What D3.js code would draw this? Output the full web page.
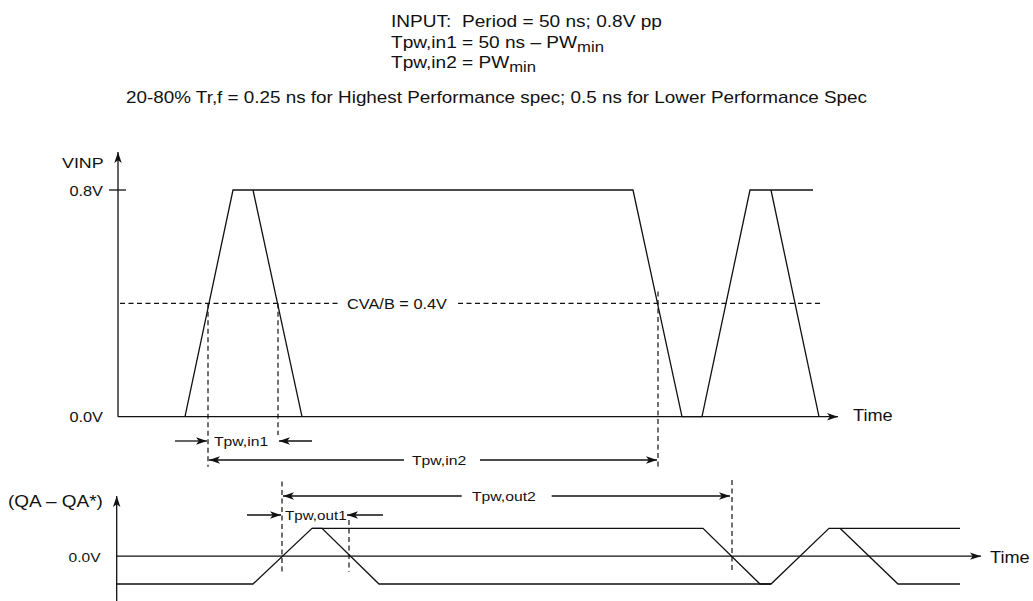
<!DOCTYPE html>
<html>
<head>
<meta charset="utf-8">
<script src="https://cdn.jsdelivr.net/npm/d3@7"></script>
<style>
  body { margin: 0; background: #fff; }
  svg text { font-family: "Liberation Sans", Arial, sans-serif; fill: #111; white-space: pre; }
</style>
</head>
<body>
<div id="chart"></div>
<script>
// header notes
var headerLines = ["INPUT:  Period = 50 ns; 0.8V pp", "Tpw,in1 = 50 ns \u2013 PW", "Tpw,in2 = PW"];
var headerSubs = ["", "min", "min"];
var specLine = "20-80% Tr,f = 0.25 ns for Highest Performance spec; 0.5 ns for Lower Performance Spec";

// input (VINP) waveform, time in ns, volts
var vinpWideT = [6.7, 11.5, 51.5, 56.4, 58.4, 63.2, 69.5];
var vinpWideV = [0, 0.8, 0.8, 0, 0, 0.8, 0.8];
var vinpFall1T = [13.5, 18.4];
var vinpFall2T = [65.3, 70.1];
var vinpFallV = [0.8, 0];
var vinpTicks = [0, 0.8];
var vinpTickLabels = ["0.0V", "0.8V"];
var threshold = 0.4;

// output (QA - QA*) waveform
var outWideT = [-0.13, 13.5, 19.4, 58.5, 64.2, 65.3, 71.1, 84.2];
var outWideV = [-0.8, -0.8, 0.8, 0.8, -0.8, -0.8, 0.8, 0.8];
var outNarrow1T = [19.4, 20.4, 26.1, 65.3];
var outNarrow1V = [0.8, 0.8, -0.8, -0.8];
var outNarrow2T = [72.2, 78.0, 84.2];
var outNarrow2V = [0.8, -0.8, -0.8];

// crossing times for pulse widths
var inCross = [9.0, 16.0, 54.0];
var outCross = [16.4, 23.1, 61.4];

function chart() {
    var svgWidth = 1033, svgHeight = 601;

    var svg = d3.select("#chart").append("svg")
        .attr("width", svgWidth)
        .attr("height", svgHeight);

    // arrow heads
    var defs = svg.append("defs");
    defs.append("marker")
        .attr("id", "arr")
        .attr("viewBox", "0 0 11 10")
        .attr("refX", 11).attr("refY", 5)
        .attr("markerWidth", 11).attr("markerHeight", 10)
        .attr("markerUnits", "userSpaceOnUse")
        .attr("orient", "auto")
        .append("path")
        .attr("d", "M0,1.3 L11,5 L0,8.7 L2.8,5 Z")
        .attr("fill", "#111");

    // scales
    var x = d3.scaleLinear().domain([0, 90]).range([118, 1018]);
    var yTop = d3.scaleLinear().domain([0, 0.8]).range([416.7, 190]);
    var yBot = d3.scaleLinear().domain([-0.8, 0.8]).range([584, 528.3]);

    var lineStyle = function(sel) {
        return sel.attr("fill", "none").attr("stroke", "#111").attr("stroke-width", 1.3);
    };
    var dashStyle = function(sel) {
        return sel.attr("fill", "none").attr("stroke", "#111").attr("stroke-width", 1.2)
            .attr("stroke-dasharray", "5,3.5");
    };

    // text is a bit wide in the original, so stretch it horizontally
    var sx = 1.15;
    function txt(g, s, px, py, size, anchor) {
        return g.append("text")
            .attr("transform", `translate(${px},${py}) scale(${sx},1)`)
            .attr("text-anchor", anchor || "start")
            .style("font-size", size + "px")
            .text(s);
    }

    function wave(g, ts, vs, y) {
        var pts = ts.map((t, i) => [x(t), y(vs[i])]);
        g.append("path").attr("d", d3.line()(pts)).call(lineStyle);
    }

    // header text
    var hdr = svg.append("g");
    headerLines.forEach(function(s, i) {
        var t = txt(hdr, s, 391, 26.7 + i * 20.8, 16.6);
        if (headerSubs[i]) {
            t.append("tspan").attr("dy", 4).style("font-size", "14.5px").text(headerSubs[i]);
        }
    });
    txt(hdr, specLine, 126, 103, 16.4);

    // ---- top panel: VINP ----
    var top = svg.append("g");

    top.append("line")
        .attr("x1", x(0)).attr("x2", x(0))
        .attr("y1", yTop(0)).attr("y2", 152)
        .attr("marker-end", "url(#arr)")
        .call(lineStyle);
    top.append("line")
        .attr("x1", x(0)).attr("x2", x(72))
        .attr("y1", yTop(0)).attr("y2", yTop(0))
        .attr("marker-end", "url(#arr)")
        .call(lineStyle);

    top.append("line")
        .attr("x1", x(-0.9)).attr("x2", x(0.8))
        .attr("y1", yTop(0.8)).attr("y2", yTop(0.8))
        .call(lineStyle);

    vinpTicks.forEach(function(d, i) {
        txt(top, vinpTickLabels[i], 103, yTop(d) + 5.5, 14.2, "end");
    });

    txt(top, "VINP", 62, 167.5, 15.5);
    txt(top, "Time", 853, 421, 15.8);

    // threshold line with label
    top.append("line")
        .attr("x1", x(0.2)).attr("x2", x(22.3))
        .attr("y1", yTop(threshold)).attr("y2", yTop(threshold))
        .call(dashStyle);
    txt(top, "CVA/B = 0.4V", 347, yTop(threshold) + 5.5, 14.2);
    top.append("line")
        .attr("x1", x(34)).attr("x2", x(70.2))
        .attr("y1", yTop(threshold)).attr("y2", yTop(threshold))
        .call(dashStyle);

    wave(top, vinpWideT, vinpWideV, yTop);
    wave(top, vinpFall1T, vinpFallV, yTop);
    wave(top, vinpFall2T, vinpFallV, yTop);

    // crossing markers
    var inEnds = [466.7, 435, 466.7];
    var inStarts = [yTop(threshold), yTop(threshold), 291.5];
    inCross.forEach(function(t, i) {
        top.append("line")
            .attr("x1", x(t)).attr("x2", x(t))
            .attr("y1", inStarts[i]).attr("y2", inEnds[i])
            .call(dashStyle);
    });

    // Tpw,in1
    top.append("line").attr("x1", x(inCross[0]) - 33).attr("x2", x(inCross[0]) - 1)
        .attr("y1", 441).attr("y2", 441).attr("marker-end", "url(#arr)").call(lineStyle);
    txt(top, "Tpw,in1", x(inCross[0]) + 6, 446, 13.7);
    top.append("line").attr("x1", x(inCross[1]) + 34).attr("x2", x(inCross[1]) + 1)
        .attr("y1", 441).attr("y2", 441).attr("marker-end", "url(#arr)").call(lineStyle);

    // Tpw,in2
    top.append("line").attr("x1", 404).attr("x2", x(inCross[0]) + 1)
        .attr("y1", 460).attr("y2", 460).attr("marker-end", "url(#arr)").call(lineStyle);
    txt(top, "Tpw,in2", 412, 465, 13.7);
    top.append("line").attr("x1", 480).attr("x2", x(inCross[2]) - 1)
        .attr("y1", 460).attr("y2", 460).attr("marker-end", "url(#arr)").call(lineStyle);

    // ---- bottom panel: QA - QA* ----
    var bot = svg.append("g");

    bot.append("line")
        .attr("x1", 116.7).attr("x2", 116.7)
        .attr("y1", 601).attr("y2", 496)
        .attr("marker-end", "url(#arr)")
        .call(lineStyle);
    bot.append("line")
        .attr("x1", 116.7).attr("x2", x(86.3))
        .attr("y1", yBot(0)).attr("y2", yBot(0))
        .attr("marker-end", "url(#arr)")
        .call(lineStyle);

    txt(bot, "(QA \u2013 QA*)", 8, 506.5, 16.5);
    txt(bot, "0.0V", 100.5, yBot(0) + 5.5, 13.5, "end");
    txt(bot, "Time", 990, yBot(0) + 6.5, 15.8);

    wave(bot, outWideT, outWideV, yBot);
    wave(bot, outNarrow1T, outNarrow1V, yBot);
    wave(bot, outNarrow2T, outNarrow2V, yBot);

    var outStarts = [481.5, 520, 480];
    outCross.forEach(function(t, i) {
        bot.append("line")
            .attr("x1", x(t)).attr("x2", x(t))
            .attr("y1", outStarts[i]).attr("y2", 571.7)
            .call(dashStyle);
    });

    // Tpw,out2
    bot.append("line").attr("x1", 461.7).attr("x2", x(outCross[0]) + 1)
        .attr("y1", 496).attr("y2", 496).attr("marker-end", "url(#arr)").call(lineStyle);
    txt(bot, "Tpw,out2", 472, 501, 13.7);
    bot.append("line").attr("x1", 551.7).attr("x2", x(outCross[2]) - 2)
        .attr("y1", 496).attr("y2", 496).attr("marker-end", "url(#arr)").call(lineStyle);

    // Tpw,out1
    bot.append("line").attr("x1", x(outCross[0]) - 35).attr("x2", x(outCross[0]) - 1)
        .attr("y1", 515).attr("y2", 515).attr("marker-end", "url(#arr)").call(lineStyle);
    txt(bot, "Tpw,out1", x(outCross[0]) + 3, 520, 13.2);
    bot.append("line").attr("x1", x(outCross[1]) + 34).attr("x2", x(outCross[1]) - 2)
        .attr("y1", 515).attr("y2", 515).attr("marker-end", "url(#arr)").call(lineStyle);
}

chart();
</script>
</body>
</html>
